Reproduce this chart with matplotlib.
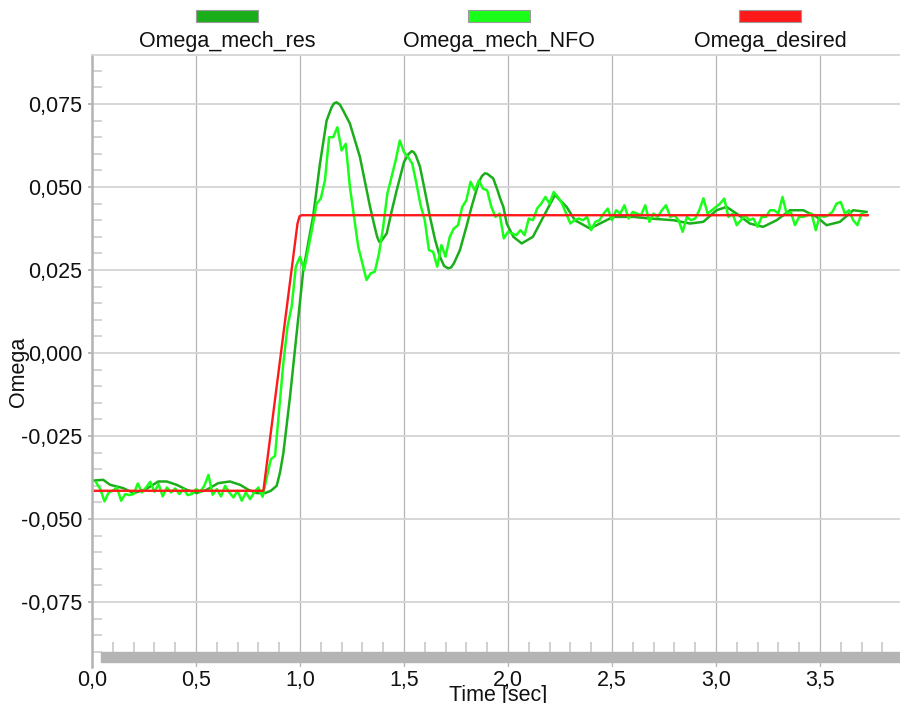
import numpy as np
import matplotlib.pyplot as plt
from matplotlib.ticker import FuncFormatter, MultipleLocator
from matplotlib.patches import Rectangle

plt.rcParams['font.family'] = ['Liberation Sans', 'DejaVu Sans']

# --- Omega_desired: ramp from -0.0415 to 0.0415
t_des = [0.014, 0.824, 0.988, 0.998, 1.008, 3.73]
w_des = [-0.0415, -0.0415, 0.039, 0.0412, 0.0415, 0.0415]

# --- Omega_mech_res (smooth response, read at uneven times)
t_res = [0.014, 0.054, 0.087, 0.150, 0.199, 0.255, 0.319, 0.359, 0.407, 0.455,
         0.503, 0.551, 0.607, 0.663, 0.712, 0.752, 0.792, 0.832, 0.860, 0.888,
         0.904, 0.920, 0.952, 0.984, 1.016, 1.048, 1.064, 1.096, 1.128, 1.152,
         1.164, 1.176, 1.192, 1.208, 1.240, 1.288, 1.337, 1.361, 1.371, 1.381,
         1.391, 1.400, 1.417, 1.440, 1.465, 1.500, 1.520, 1.537, 1.547, 1.557,
         1.577, 1.600, 1.625, 1.650, 1.673, 1.693, 1.713, 1.727, 1.740, 1.769,
         1.800, 1.825, 1.860, 1.875, 1.889, 1.900, 1.910, 1.929, 1.950, 1.962,
         1.978, 1.994, 2.026, 2.066, 2.120, 2.170, 2.226, 2.282, 2.322, 2.394,
         2.442, 2.506, 2.603, 2.683, 2.795, 2.875, 2.939, 3.003, 3.051, 3.099,
         3.163, 3.227, 3.292, 3.356, 3.420, 3.484, 3.532, 3.596, 3.660, 3.724]
w_res = [-0.0384, -0.0382, -0.0397, -0.0407, -0.0422, -0.0412, -0.0387, -0.0387, -0.0397, -0.0412,
         -0.0422, -0.0412, -0.0392, -0.0387, -0.0397, -0.0412, -0.0422, -0.0422, -0.0415, -0.0400,
         -0.0360, -0.0302, -0.0132, 0.0059, 0.0250, 0.0360, 0.0415, 0.0570, 0.0700, 0.0740,
         0.0752, 0.0755, 0.0748, 0.0730, 0.0691, 0.0591, 0.0440, 0.0375, 0.0350, 0.0335,
         0.0337, 0.0345, 0.0360, 0.0425, 0.0490, 0.0575, 0.0598, 0.0608, 0.0605, 0.0595,
         0.0561, 0.0490, 0.0410, 0.0340, 0.0290, 0.0262, 0.0255, 0.0258, 0.0270, 0.0310,
         0.0380, 0.0440, 0.0515, 0.0533, 0.0541, 0.0540, 0.0535, 0.0526, 0.0490, 0.0466,
         0.0440, 0.0390, 0.0350, 0.0330, 0.0350, 0.0410, 0.0476, 0.0440, 0.0400, 0.0375,
         0.0390, 0.0410, 0.0410, 0.0405, 0.0400, 0.0390, 0.0395, 0.0430, 0.0440, 0.0420,
         0.0390, 0.0380, 0.0400, 0.0430, 0.0430, 0.0410, 0.0385, 0.0395, 0.0430, 0.0425]

# --- Omega_mech_NFO (noisy observer output, sampled every 0.02 s)
t_nfo = np.round(np.arange(1, 187) * 0.02, 2)
w_nfo = [-0.0390, -0.0410, -0.0447, -0.0420, -0.0415, -0.0405, -0.0445, -0.0425, -0.0428, -0.0425,
         -0.0393, -0.0420, -0.0405, -0.0388, -0.0418, -0.0395, -0.0432, -0.0405, -0.0420, -0.0408,
         -0.0425, -0.0410, -0.0428, -0.0425, -0.0410, -0.0418, -0.0400, -0.0367, -0.0427, -0.0410,
         -0.0432, -0.0400, -0.0420, -0.0435, -0.0415, -0.0445, -0.0420, -0.0440, -0.0420, -0.0405,
         -0.0433, -0.0375, -0.0320, -0.0310, -0.0170, -0.0030, 0.0080, 0.0140, 0.0260, 0.0290,
         0.0250, 0.0315, 0.0380, 0.0450, 0.0465, 0.0520, 0.0650, 0.0650, 0.0680, 0.0610,
         0.0630, 0.0500, 0.0410, 0.0320, 0.0270, 0.0220, 0.0240, 0.0245, 0.0300, 0.0380,
         0.0480, 0.0530, 0.0580, 0.0640, 0.0605, 0.0590, 0.0570, 0.0510, 0.0445, 0.0400,
         0.0310, 0.0305, 0.0260, 0.0325, 0.0290, 0.0350, 0.0375, 0.0385, 0.0440, 0.0460,
         0.0516, 0.0490, 0.0520, 0.0495, 0.0490, 0.0440, 0.0410, 0.0420, 0.0345, 0.0365,
         0.0360, 0.0355, 0.0370, 0.0355, 0.0405, 0.0400, 0.0435, 0.0450, 0.0470, 0.0450,
         0.0485, 0.0470, 0.0450, 0.0420, 0.0390, 0.0400, 0.0405, 0.0400, 0.0410, 0.0370,
         0.0395, 0.0400, 0.0420, 0.0435, 0.0400, 0.0430, 0.0420, 0.0445, 0.0405, 0.0425,
         0.0420, 0.0415, 0.0445, 0.0395, 0.0420, 0.0410, 0.0430, 0.0445, 0.0410, 0.0415,
         0.0400, 0.0365, 0.0410, 0.0400, 0.0405, 0.0430, 0.0466, 0.0420, 0.0430, 0.0440,
         0.0450, 0.0465, 0.0410, 0.0420, 0.0385, 0.0400, 0.0415, 0.0400, 0.0405, 0.0380,
         0.0410, 0.0410, 0.0430, 0.0430, 0.0420, 0.0470, 0.0420, 0.0425, 0.0385, 0.0410,
         0.0410, 0.0415, 0.0420, 0.0370, 0.0415, 0.0410, 0.0415, 0.0425, 0.0450, 0.0455,
         0.0420, 0.0430, 0.0400, 0.0385, 0.0420, 0.0415]

names = ['Omega_mech_res', 'Omega_mech_NFO', 'Omega_desired']
colors = ['#1aaf1a', '#1aff1a', '#ff1a1a']

W, H = 900, 703
fig = plt.figure(figsize=(W / 100, H / 100), dpi=100)
ax = fig.add_axes([92 / W, 36 / H, 808 / W, 612 / H])

ax.plot(t_res, w_res, color=colors[0], lw=1.8, zorder=3)
ax.plot(t_nfo, w_nfo, color=colors[1], lw=1.8, zorder=4)
ax.plot(t_des, w_des, color=colors[2], lw=1.7, zorder=5)

ax.set_xlim(0, 3.885)
ax.set_ylim(-0.09458, 0.08976)

ax.xaxis.set_major_locator(MultipleLocator(0.5))
ax.yaxis.set_major_locator(MultipleLocator(0.025))
ax.yaxis.set_minor_locator(MultipleLocator(0.005))
ax.xaxis.set_major_formatter(FuncFormatter(lambda v, p: f"{v:.1f}".replace('.', ',')))
ax.yaxis.set_major_formatter(FuncFormatter(lambda v, p: f"{v:.3f}".replace('.', ',')))

ax.grid(axis='x', color='#b4b4b4', lw=0.9, zorder=0)
ax.grid(axis='y', color='#d4d4d4', lw=1.3, zorder=0)

ax.tick_params(axis='x', length=0, pad=2, labelsize=15.5, colors='#111111')
ax.tick_params(axis='y', which='major', length=3, width=1.3, color='#b4b4b4',
               pad=4, labelsize=15.5, labelcolor='#111111')
ax.tick_params(axis='y', which='minor', direction='in', length=7, width=1.1,
               color='#c8c8c8')

for s in ['right', 'bottom']:
    ax.spines[s].set_visible(False)
ax.spines['left'].set_color('#b4b4b4')
ax.spines['left'].set_linewidth(1.8)
ax.spines['top'].set_color('#d4d4d4')
ax.spines['top'].set_linewidth(1.3)

# scroll-like bar at the bottom with minor time ticks above it
ax.add_patch(Rectangle((0.043, -0.09307), 4.0, 0.00301, color='#b4b4b4', zorder=2))
minor_t = [v for v in np.round(np.arange(0.1, 3.85, 0.1), 1) if abs(v * 2 - round(v * 2)) > 1e-6]
ax.vlines(minor_t, -0.09006, -0.08705, color='#c8c8c8', lw=1.2, zorder=2)

fig.text(18 / W, 1 - 372 / H, 'Omega', rotation=90, ha='center', va='center',
         fontsize=15.5, color='#111111')
fig.text(498 / W, 1 - 696 / H, 'Time [sec]', ha='center', va='center',
         fontsize=15.5, color='#111111')

# legend across the top
for xc, name, c in zip([227, 499, 770], names, colors):
    fig.add_artist(Rectangle(((xc - 31) / W, 1 - 22 / H), 62 / W, 12 / H,
                             transform=fig.transFigure, fc=c, ec='#9a9a9a', lw=0.8))
    fig.text(xc / W, 1 - 41 / H, name, ha='center', va='center',
             fontsize=15.5, color='#111111')

fig.savefig('out.png', dpi=100)
